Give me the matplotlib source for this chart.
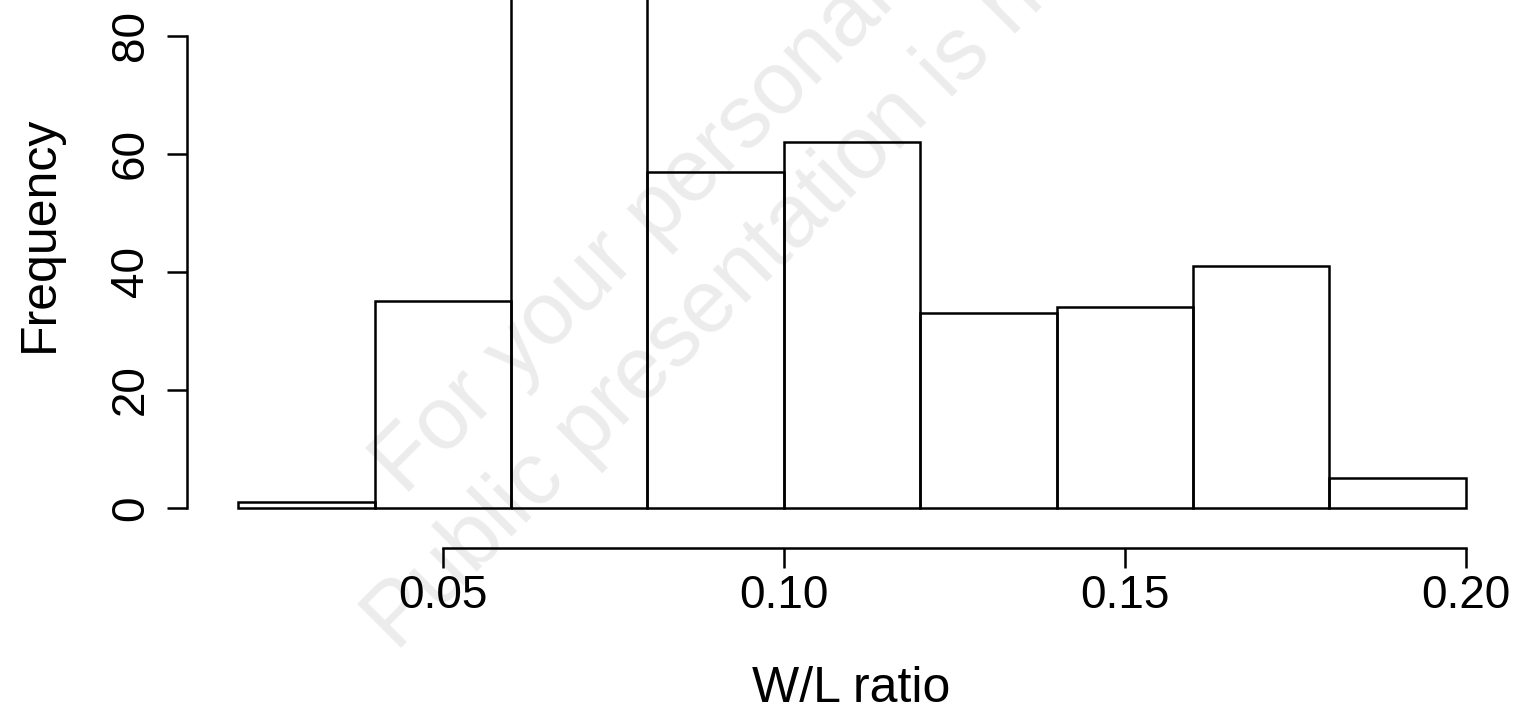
import matplotlib
matplotlib.use("Agg")
import matplotlib.pyplot as plt
import numpy as np

plt.rcParams['font.family'] = ['Liberation Sans', 'DejaVu Sans']

# histogram of W/L ratio, bins of width 0.02
bin_edges = [0.02, 0.04, 0.06, 0.08, 0.10, 0.12, 0.14, 0.16, 0.18, 0.20]
counts = [1, 35, 169, 57, 62, 33, 34, 41, 5]
x_ticks = [0.05, 0.10, 0.15, 0.20]
x_ticklabels = ["0.05", "0.10", "0.15", "0.20"]
y_ticks = [0, 20, 40, 60, 80]
watermark = ["For your personal use only", "Public presentation is not permitted"]

W, H = 1520, 711
fig = plt.figure(figsize=(W / 100, H / 100), dpi=100)
# plot region: x 187..1515 px, y 0..548 px (image coords)
ax = fig.add_axes([187 / W, (H - 548) / H, (1515 - 187) / W, 548 / H])

lefts = np.array(bin_edges[:-1])
widths = np.diff(bin_edges)
ax.bar(lefts, counts, width=widths, align='edge', facecolor='none',
       edgecolor='black', linewidth=1.8, zorder=2)

ax.set_xlim(0.0125, 0.2072)
ax.set_ylim(-6.78, 86.1)

for s in ['top', 'right']:
    ax.spines[s].set_visible(False)
ax.spines['left'].set_bounds(0, 80)
ax.spines['bottom'].set_bounds(0.05, 0.20)
for s in ['left', 'bottom']:
    ax.spines[s].set_linewidth(1.8)

ax.set_xticks(x_ticks)
ax.set_xticklabels(x_ticklabels)
ax.set_yticks(y_ticks)
ax.tick_params(axis='both', direction='out', length=14.4, width=1.8,
               labelsize=33)
ax.tick_params(axis='x', pad=4.6)
ax.tick_params(axis='y', pad=10, labelrotation=90)
for lab in ax.get_yticklabels():
    lab.set_verticalalignment('center')

ax.text(0.5, (548 - 689) / 548, "W/L ratio", transform=ax.transAxes,
        ha='center', va='center', fontsize=36)
fig.text(40 / W, (H - 234) / H, "Frequency", rotation=90,
         ha='center', va='center', fontsize=36)

# faint diagonal watermark behind the bars
ax.text(405 / W, (H - 497) / H, watermark[0], transform=fig.transFigure,
        rotation=45, rotation_mode='anchor', ha='left', va='baseline',
        fontsize=64, color='#ececec', zorder=0.5, clip_on=False)
ax.text(397 / W, (H - 653) / H, watermark[1], transform=fig.transFigure,
        rotation=45, rotation_mode='anchor', ha='left', va='baseline',
        fontsize=64, color='#ececec', zorder=0.5, clip_on=False)

fig.savefig("out.png", dpi=100)
